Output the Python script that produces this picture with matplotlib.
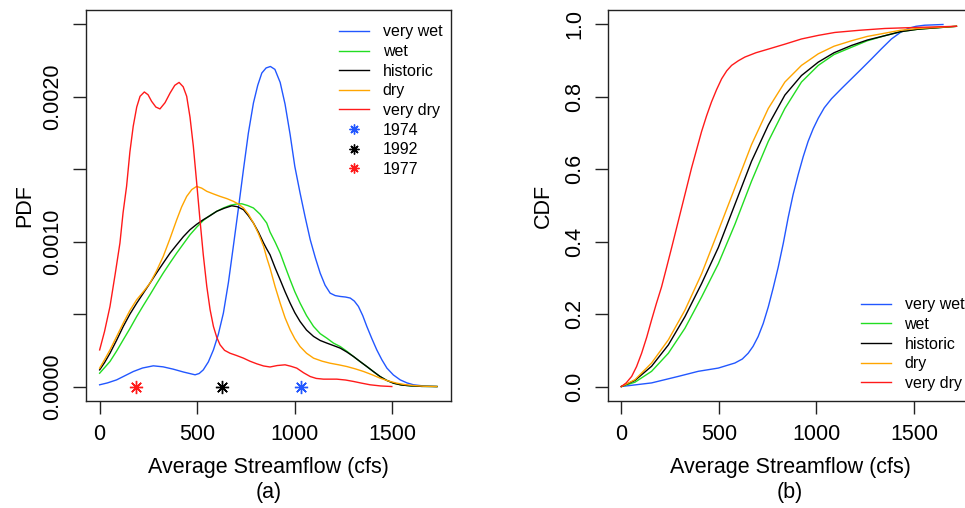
import matplotlib
matplotlib.use('Agg')
import matplotlib.pyplot as plt
from matplotlib.ticker import FixedLocator

plt.rcParams['font.family'] = ['Liberation Sans', 'DejaVu Sans']

scenarios = ['very wet', 'wet', 'historic', 'dry', 'very dry']
colors = ['#2257ff', '#22dd22', 'black', '#ffa500', '#ff1a1a']

# kernel density curves (flow in cfs, density in 1e-3 per cfs)
pdf_x = {
    'very wet': [0, 40, 87, 130, 173, 220, 275, 325, 377, 430, 489, 510, 531, 557, 583,
                 608, 634, 660, 685, 711, 737, 762, 788, 810, 831, 853, 875, 898, 925,
                 950, 976, 1000, 1027, 1053, 1079, 1105, 1130, 1155, 1181, 1207, 1233,
                 1260, 1284, 1305, 1326, 1348, 1369, 1395, 1420, 1446, 1472, 1505, 1540,
                 1575, 1608, 1660, 1728],
    'wet': [0, 25, 53, 87, 121, 155, 190, 224, 258, 292, 326, 360, 395, 429, 463, 497,
            531, 566, 600, 634, 668, 700, 728, 758, 788, 822, 856, 873, 900, 925, 950,
            976, 1000, 1027, 1060, 1096, 1130, 1164, 1198, 1233, 1267, 1301, 1335, 1369,
            1403, 1437, 1470, 1506, 1545, 1591, 1650, 1728],
    'historic': [0, 25, 53, 87, 121, 155, 190, 224, 258, 292, 326, 360, 395, 429, 463,
                 497, 531, 566, 600, 640, 677, 705, 737, 762, 788, 814, 840, 856, 873, 899,
                 925, 950, 976, 1000, 1027, 1060, 1096, 1130, 1164, 1198, 1233, 1267, 1301,
                 1335, 1369, 1403, 1437, 1470, 1506, 1545, 1591, 1650, 1728],
    'dry': [0, 25, 53, 87, 121, 155, 190, 224, 258, 292, 326, 360, 395, 420, 446, 472,
            497, 523, 549, 583, 617, 651, 685, 711, 737, 762, 788, 814, 840, 856, 873,
            899, 925, 950, 976, 1000, 1027, 1060, 1096, 1140, 1181, 1225, 1267, 1310,
            1352, 1395, 1437, 1480, 1523, 1565, 1608, 1660, 1728],
    'very dry': [0, 25, 53, 80, 104, 120, 138, 155, 172, 190, 207, 229, 248, 266, 288,
                 309, 335, 361, 385, 407, 428, 446, 463, 480, 497, 514, 531, 549, 566, 583,
                 600, 617, 640, 668, 700, 737, 770, 805, 840, 873, 910, 950, 980, 1010,
                 1045, 1079, 1110, 1147, 1215, 1260, 1301, 1340, 1386, 1440, 1497],
}
pdf_y = {
    'very wet': [0.012, 0.025, 0.046, 0.075, 0.104, 0.128, 0.143, 0.136, 0.12, 0.10,
                 0.081, 0.09, 0.115, 0.17, 0.253, 0.36, 0.507, 0.72, 0.968, 1.23, 1.50,
                 1.75, 1.958, 2.08, 2.165, 2.20, 2.21, 2.19, 2.10, 1.95, 1.74, 1.52, 1.336,
                 1.17, 1.014, 0.89, 0.783, 0.70, 0.645, 0.628, 0.622, 0.618, 0.611, 0.59,
                 0.553, 0.49, 0.415, 0.33, 0.253, 0.185, 0.127, 0.08, 0.046, 0.025, 0.012,
                 0.004, 0.0],
    'wet': [0.092, 0.13, 0.173, 0.245, 0.323, 0.40, 0.484, 0.56, 0.634, 0.71, 0.784,
            0.853, 0.922, 0.985, 1.048, 1.10, 1.147, 1.182, 1.21, 1.233, 1.251, 1.26,
            1.262, 1.25, 1.233, 1.19, 1.129, 1.067, 0.995, 0.922, 0.83, 0.737, 0.655,
            0.576, 0.49, 0.415, 0.365, 0.334, 0.30, 0.276, 0.243, 0.207, 0.172, 0.138,
            0.103, 0.069, 0.043, 0.023, 0.011, 0.005, 0.001, 0.0],
    'historic': [0.115, 0.165, 0.23, 0.32, 0.415, 0.50, 0.576, 0.645, 0.714, 0.785,
                 0.853, 0.92, 0.979, 1.035, 1.083, 1.12, 1.152, 1.18, 1.21, 1.232, 1.248,
                 1.242, 1.221, 1.18, 1.129, 1.065, 0.991, 0.95, 0.91, 0.82, 0.737, 0.655,
                 0.576, 0.51, 0.449, 0.39, 0.346, 0.318, 0.30, 0.283, 0.265, 0.238, 0.207,
                 0.172, 0.138, 0.103, 0.069, 0.043, 0.023, 0.011, 0.005, 0.001, 0.0],
    'dry': [0.127, 0.185, 0.253, 0.345, 0.438, 0.525, 0.60, 0.655, 0.714, 0.80, 0.899,
            1.02, 1.152, 1.24, 1.313, 1.36, 1.382, 1.37, 1.348, 1.33, 1.313, 1.298, 1.279,
            1.26, 1.233, 1.19, 1.129, 1.055, 0.968, 0.89, 0.818, 0.69, 0.576, 0.475,
            0.392, 0.33, 0.276, 0.23, 0.196, 0.175, 0.161, 0.15, 0.138, 0.122, 0.104,
            0.082, 0.058, 0.038, 0.023, 0.013, 0.007, 0.002, 0.0],
    'very dry': [0.253, 0.38, 0.553, 0.78, 0.991, 1.2, 1.382, 1.62, 1.797, 1.93, 2.004,
                 2.034, 2.015, 1.97, 1.93, 1.917, 1.96, 2.027, 2.08, 2.10, 2.07, 2.004,
                 1.86, 1.66, 1.41, 1.152, 0.91, 0.691, 0.53, 0.415, 0.34, 0.288, 0.25,
                 0.23, 0.215, 0.196, 0.175, 0.157, 0.142, 0.135, 0.145, 0.15, 0.14, 0.127,
                 0.095, 0.069, 0.056, 0.051, 0.051, 0.045, 0.035, 0.024, 0.012, 0.004, 0.0],
}

# empirical cumulative distributions
cdf_x = {
    'very wet': [0, 155, 292, 394, 497, 582, 620, 650, 675, 701, 727, 753, 778, 804, 830,
                 855, 880, 906, 932, 957, 983, 1009, 1040, 1077, 1130, 1179, 1230, 1282,
                 1333, 1384, 1430, 1469, 1510, 1555, 1648],
    'wet': [0, 70, 155, 241, 326, 411, 497, 582, 667, 753, 838, 923, 1009, 1090, 1179,
            1260, 1350, 1430, 1520, 1717],
    'historic': [0, 70, 155, 241, 326, 411, 497, 582, 667, 753, 838, 923, 1009, 1090, 1179,
                 1260, 1350, 1430, 1520, 1717],
    'dry': [0, 70, 155, 241, 326, 411, 497, 582, 667, 753, 838, 923, 1009, 1090, 1179,
            1260, 1350, 1430, 1520, 1717],
    'very dry': [0, 25, 53, 78, 104, 130, 155, 180, 206, 232, 258, 284, 309, 335, 360,
                 386, 411, 437, 462, 488, 514, 540, 565, 600, 633, 690, 753, 840, 923,
                 1010, 1094, 1220, 1350, 1520, 1717],
}
cdf_y = {
    'very wet': [0.0, 0.01, 0.028, 0.042, 0.051, 0.065, 0.076, 0.092, 0.111, 0.138, 0.174,
                 0.22, 0.272, 0.33, 0.396, 0.467, 0.53, 0.585, 0.635, 0.677, 0.712, 0.741,
                 0.77, 0.795, 0.824, 0.85, 0.877, 0.905, 0.933, 0.96, 0.978, 0.989, 0.995,
                 0.998, 1.0],
    'wet': [0.0, 0.012, 0.042, 0.092, 0.161, 0.247, 0.339, 0.448, 0.567, 0.677, 0.768,
            0.841, 0.887, 0.917, 0.937, 0.955, 0.969, 0.98, 0.987, 0.995],
    'historic': [0.0, 0.017, 0.056, 0.115, 0.193, 0.284, 0.384, 0.503, 0.622, 0.722, 0.805,
                 0.859, 0.896, 0.922, 0.942, 0.957, 0.969, 0.98, 0.987, 0.995],
    'dry': [0.0, 0.019, 0.065, 0.129, 0.211, 0.311, 0.43, 0.549, 0.668, 0.768, 0.841,
            0.887, 0.919, 0.94, 0.955, 0.967, 0.976, 0.984, 0.989, 0.995],
    'very dry': [0.0, 0.01, 0.028, 0.055, 0.092, 0.136, 0.184, 0.23, 0.275, 0.329, 0.384,
                 0.44, 0.494, 0.55, 0.604, 0.655, 0.704, 0.748, 0.786, 0.82, 0.85, 0.872,
                 0.887, 0.90, 0.91, 0.922, 0.932, 0.946, 0.96, 0.97, 0.978, 0.984, 0.989,
                 0.992, 0.995],
}

years = ['1974', '1992', '1977']
year_flow = [1032, 626, 186]
year_colors = ['#2257ff', 'black', '#ff1a1a']

x_ticks = [0, 500, 1000, 1500]
pdf_ticks = [0, 0.0005, 0.0010, 0.0015, 0.0020, 0.0025]
pdf_tick_labels = ['0.0000', '', '0.0010', '', '0.0020', '']
cdf_ticks = [0, 0.2, 0.4, 0.6, 0.8, 1.0]
cdf_tick_labels = ['0.0', '0.2', '0.4', '0.6', '0.8', '1.0']

star = (8, 2, 0)
fs = 15.5
leg_kw = dict(frameon=False, fontsize=11.5, handlelength=1.9, handletextpad=0.85,
              labelspacing=0.29, borderpad=0, borderaxespad=0)


def style_axes(ax):
    for s in ax.spines.values():
        s.set_linewidth(1.0)
        s.set_color('#222222')
    ax.tick_params(length=9.4, width=1.0, pad=7, labelsize=fs, color='#222222')
    ax.tick_params(axis='y', labelrotation=90)
    for lab in ax.get_yticklabels():
        lab.set_va('center')
    ax.set_xlim(-70, 1800)
    ax.xaxis.set_major_locator(FixedLocator(x_ticks))


fig = plt.figure(figsize=(9.65, 5.08), dpi=100)
ax1 = fig.add_axes([0.0891, 0.2106, 0.3782, 0.7697])
ax2 = fig.add_axes([0.6297, 0.2106, 0.3782, 0.7697])

# (a) density
for name, c in zip(scenarios, colors):
    ax1.plot(pdf_x[name], [v * 1e-3 for v in pdf_y[name]], color=c, lw=1.0, label=name)
for yr, f, c in zip(years, year_flow, year_colors):
    ax1.plot([f], [0], linestyle='none', marker=star, markersize=9.5, mew=1.0,
             color=c, label=yr)
ax1.set_ylim(-0.0001, 0.0026)
ax1.set_yticks(pdf_ticks)
ax1.set_yticklabels(pdf_tick_labels)
style_axes(ax1)
ax1.set_ylabel('PDF', fontsize=fs, labelpad=5)
ax1.set_xlabel('Average Streamflow (cfs)\n(a)', fontsize=fs, labelpad=9,
               linespacing=1.22)
ax1.legend(loc='upper left', bbox_to_anchor=(0.693, 0.963), markerscale=0.75,
           numpoints=1, **leg_kw)

# (b) cumulative
for name, c in zip(scenarios, colors):
    ax2.plot(cdf_x[name], cdf_y[name], color=c, lw=1.0, label=name)
ax2.set_ylim(-0.04, 1.04)
ax2.set_yticks(cdf_ticks)
ax2.set_yticklabels(cdf_tick_labels)
style_axes(ax2)
ax2.set_ylabel('CDF', fontsize=fs, labelpad=7.5)
ax2.set_xlabel('Average Streamflow (cfs)\n(b)', fontsize=fs, labelpad=9,
               linespacing=1.22)
ax2.legend(loc='upper left', bbox_to_anchor=(0.693, 0.265), **leg_kw)

fig.savefig('out.png', dpi=100)
